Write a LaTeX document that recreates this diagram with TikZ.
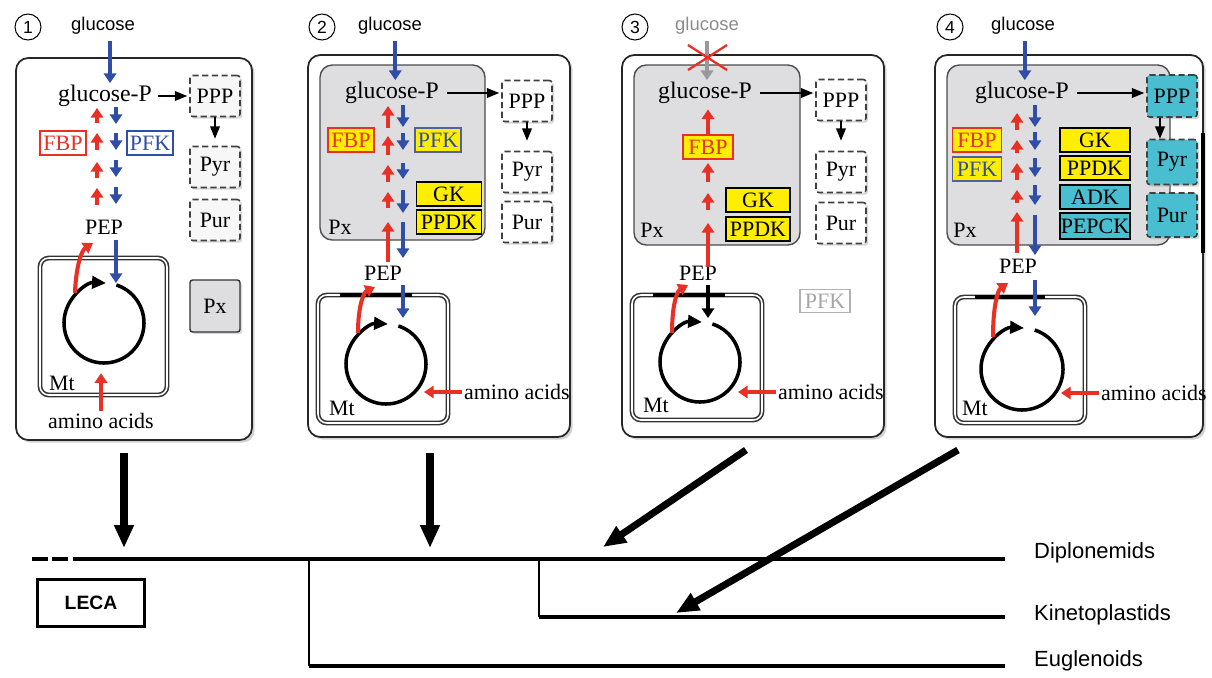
\documentclass[tikz,border=0pt]{standalone}
\usepackage{fontspec}
\setmainfont{Liberation Serif}
\setsansfont{Liberation Sans}
\usetikzlibrary{arrows.meta,shadows}

\definecolor{redA}{RGB}{232,48,36}
\definecolor{blueA}{RGB}{48,78,168}
\definecolor{yelA}{RGB}{255,238,0}
\definecolor{cyanA}{RGB}{72,190,208}
\definecolor{pxgray}{RGB}{222,222,224}

\newdimen\pxu
\pxu=0.02cm

\begin{document}
\begin{tikzpicture}[x=0.02cm,y=-0.02cm,
  every node/.style={font=\fontsize{12.5}{14}\selectfont},
  txt/.style={inner sep=1pt},
  gpx/.style={inner sep=1pt,font=\fontsize{13.5}{15}\selectfont},
  lab/.style={font=\sffamily\fontsize{10.5}{12}\selectfont},
  num/.style={draw,circle,line width=0.6pt,minimum size=26\pxu,inner sep=0pt,font=\sffamily\fontsize{10}{12}\selectfont},
  cell/.style={draw=black!85,line width=1pt,rounded corners=7pt,fill=white,
    drop shadow={shadow xshift=1.5pt,shadow yshift=-1.5pt,opacity=0.35}},
  pxc/.style={draw=black!70,line width=0.8pt,rounded corners=7pt,fill=pxgray},
  mt/.style={draw=black!80,line width=0.9pt,double=white,double distance=0.9pt,rounded corners=5pt},
  dbox/.style={draw=black!75,dash pattern=on 3.5pt off 2pt,line width=0.9pt,fill=black!3,
    rounded corners=1.5pt,minimum width=50\pxu,minimum height=41\pxu,inner sep=0pt,
    drop shadow={shadow xshift=1.2pt,shadow yshift=-1.2pt,opacity=0.3}},
  pxn/.style={draw=black!80,line width=0.8pt,fill=pxgray,rounded corners=1.5pt,
    minimum width=50\pxu,minimum height=52\pxu,inner sep=0pt,
    drop shadow={shadow xshift=1.2pt,shadow yshift=-1.2pt,opacity=0.3}},
  enz/.style={draw,line width=0.7pt,inner sep=0pt,minimum width=46\pxu,minimum height=24\pxu},
  rarr/.style={draw=redA,line width=2.3pt,-{Triangle[width=7pt,length=5.5pt]}},
  barr/.style={draw=blueA,line width=2.3pt,-{Triangle[width=7pt,length=5.5pt]}},
  karr/.style={draw=black,line width=0.8pt,-{Triangle[width=5.5pt,length=7pt]}},
  cyc/.style={draw=black,line width=2pt,-{Triangle[width=7pt,length=8pt]}},
  tree/.style={line width=2.6pt},
  big/.style={line width=4pt,-{Triangle[width=10.5pt,length=13pt]}},
  clade/.style={anchor=west,font=\sffamily\fontsize{12.5}{14}\selectfont}]
  \useasboundingbox (0,0) rectangle (1212,677);

  % ===== Panel 1: LECA =====
  \node[num] (n1) at (28,27) {1};
  \node[lab] (glc1) at (103,26) {glucose};
  \draw[cell] (16,58) rectangle (252,440);
  \node[gpx] (gp1) at (105,96) {glucose-P};
  \node[dbox] (ppp1) at (215,96) {PPP};
  \node[dbox] (pyr1) at (215,167) {Pyr};
  \node[dbox] (pur1) at (215,220) {Pur};
  \node[pxn] (px1) at (215,306) {Px};
  \node[enz,draw=redA,text=redA] (fbp1) at (63,143) {FBP};
  \node[enz,draw=blueA,text=blueA] (pfk1) at (150,143) {PFK};
  \node[txt] (pep1) at (104,227) {PEP};
  \draw[mt] (40,258) rectangle (167,395);
  \node[txt] (mt1) at (62,383) {Mt};
  \node[txt] (aa1) at (101,421) {amino acids};
  \draw[barr] ([xshift=4pt]glc1.south) -- ([xshift=4pt]glc1.south |- gp1.north);
  \draw[karr,shorten <=4\pxu,shorten >=2\pxu] (gp1.east) -- (gp1.east -| ppp1.west);
  \draw[karr,shorten >=7\pxu] (ppp1) -- (pyr1);
  % glycolysis / gluconeogenesis
  \foreach \a/\b in {123/108,150/133,178/162,205/188}
    \draw[rarr] (97,\a) -- (97,\b);
  \foreach \a/\b in {107/124,133/150,160/177,187/204}
    \draw[barr] (116,\a) -- (116,\b);
  \draw[barr] (116,240) -- (116,283);
  \coordinate (c1) at (104,323);
  \draw[cyc] (c1) ++(-72:40) arc[start angle=-72,end angle=273,radius=40];
  \draw[rarr] (75,293) .. controls (76,265) and (82,250) .. (93,243);
  \draw[rarr] (aa1.north) -- ++(0,-38);

  % ===== Panel 2 =====
  \node[num] (n2) at (322,27) {2};
  \node[lab] (glc2) at (390,26) {glucose};
  \draw[cell] (308,55) rectangle (570,437);
  \draw[pxc] (320,65) rectangle (485,240);
  \node[txt] (px2) at (340,227) {Px};
  \node[gpx] (gp2) at (392,93) {glucose-P};
  \node[dbox,fill=white] (ppp2) at (527,101) {PPP};
  \node[dbox,fill=white] (pyr2) at (527,172) {Pyr};
  \node[dbox,fill=white] (pur2) at (527,222) {Pur};
  \node[enz,fill=yelA,draw=redA,text=redA] (fbp2) at (351,140) {FBP};
  \node[enz,fill=yelA,draw=blueA!60!gray,text=blueA] (pfk2) at (438,140) {PFK};
  \node[enz,fill=yelA,minimum width=65\pxu] (gk2) at (449,194) {GK};
  \node[enz,fill=yelA,minimum width=65\pxu] (ppdk2) at (449,222) {PPDK};
  \node[txt] (pep2) at (383,273) {PEP};
  \draw[mt] (318,295) rectangle (448,423);
  \draw[line width=2.2pt] (340,295) -- (412,295);
  \node[txt] (mt2) at (342,408) {Mt};
  \node[txt,anchor=west] (aa2) at (462,392) {amino acids};
  \draw[barr] ([xshift=3pt]glc2.south) -- ([xshift=3pt]glc2.south |- gp2.north);
  \draw[karr,shorten <=6\pxu,shorten >=2\pxu] (gp2.east) -- (gp2.east -| ppp2.west);
  \draw[karr,shorten >=10\pxu] (ppp2) -- (pyr2);
  \foreach \a/\b in {128/106,155/136,182/165,208/192,262/222}
    \draw[rarr] (388,\a) -- (388,\b);
  \foreach \a/\b in {105/127,133/150,163/179,190/213,222/258}
    \draw[barr] (403,\a) -- (403,\b);
  \draw[barr] (403,285) -- (403,318);
  \coordinate (c2) at (386,364);
  \draw[cyc] (c2) ++(-72:40) arc[start angle=-72,end angle=273,radius=40];
  \draw[rarr] (358,333) .. controls (358,305) and (364,292) .. (375,287);
  \draw[rarr] (aa2.west) -- ++(-38,0);

  % ===== Panel 3 =====
  \node[num] (n3) at (635,27) {3};
  \node[lab,text=black!45] (glc3) at (707,26) {glucose};
  \draw[cell] (622,55) rectangle (884,437);
  \draw[pxc] (634,65) rectangle (800,245);
  \node[txt] (px3) at (652,230) {Px};
  \node[gpx] (gp3) at (705,93) {glucose-P};
  \node[dbox,fill=white] (ppp3) at (841,100) {PPP};
  \node[dbox,fill=white] (pyr3) at (841,172) {Pyr};
  \node[dbox,fill=white] (pur3) at (841,223) {Pur};
  \node[enz,fill=yelA,draw=redA,text=redA,minimum width=50\pxu] (fbp3) at (708,147) {FBP};
  \node[enz,fill=yelA,minimum width=64\pxu] (gk3) at (758,200) {GK};
  \node[enz,fill=yelA,minimum width=64\pxu] (ppdk3) at (758,229) {PPDK};
  \node[enz,draw=black!30,text=black!35,minimum width=50\pxu,minimum height=23\pxu] (pfk3) at (825,301) {PFK};
  \node[txt] (pep3) at (698,273) {PEP};
  \draw[mt] (632,295) rectangle (762,420);
  \draw[line width=2.2pt] (653,295) -- (725,295);
  \node[txt] (mt3) at (656,405) {Mt};
  \node[txt,anchor=west] (aa3) at (776,392) {amino acids};
  \draw[draw=black!40,line width=2.3pt,-{Triangle[width=7pt,length=5.5pt]}]
    (glc3.south) -- (glc3.south |- gp3.north);
  \draw[redA,line width=1.3pt] (688,45) -- (727,70) (688,70) -- (727,45);
  \draw[karr,shorten <=6\pxu,shorten >=2\pxu] (gp3.east) -- (gp3.east -| ppp3.west);
  \draw[karr,shorten >=10\pxu] (ppp3) -- (pyr3);
  \draw[rarr] (fbp3.north) -- ++(0,-25);
  \foreach \a/\b in {182/163,210/193,267/223}
    \draw[rarr] (708,\a) -- (708,\b);
  \draw[line width=2.3pt,-{Triangle[width=7pt,length=5.5pt]}] (708,285) -- (708,318);
  \coordinate (c3) at (700,362);
  \draw[cyc] (c3) ++(-72:40) arc[start angle=-72,end angle=273,radius=40];
  \draw[rarr] (672,333) .. controls (672,305) and (677,291) .. (688,285);
  \draw[rarr] (aa3.west) -- ++(-38,0);

  % ===== Panel 4 =====
  \node[num] (n4) at (950,27) {4};
  \node[lab] (glc4) at (1023,26) {glucose};
  \draw[cell] (935,55) rectangle (1203,437);
  \draw[line width=2pt] (1203,133) -- (1203,253);
  \draw[pxc] (947,65) rectangle (1170,245);
  \node[txt] (px4) at (965,230) {Px};
  \node[gpx] (gp4) at (1022,93) {glucose-P};
  \node[dbox,fill=cyanA,minimum height=42\pxu] (ppp4) at (1172,96) {PPP};
  \node[dbox,fill=cyanA,minimum height=45\pxu] (pyr4) at (1172,162) {Pyr};
  \node[dbox,fill=cyanA,minimum height=44\pxu] (pur4) at (1172,215) {Pur};
  \node[enz,fill=yelA,draw=redA,text=redA,minimum width=49\pxu] (fbp4) at (977,140) {FBP};
  \node[enz,fill=yelA,draw=blueA!60!gray,text=blueA,minimum width=49\pxu] (pfk4) at (977,169) {PFK};
  \node[enz,fill=yelA,minimum width=70\pxu] (gk4) at (1095,140) {GK};
  \node[enz,fill=yelA,minimum width=70\pxu] (ppdk4) at (1095,168) {PPDK};
  \node[enz,fill=cyanA,minimum width=70\pxu] (adk4) at (1095,197) {ADK};
  \node[enz,fill=cyanA,minimum width=70\pxu,minimum height=26\pxu] (pepck4) at (1095,226) {PEPCK};
  \node[txt] (pep4) at (1018,266) {PEP};
  \draw[mt] (955,297) rectangle (1085,423);
  \draw[line width=2.2pt] (975,297) -- (1045,297);
  \node[txt] (mt4) at (975,408) {Mt};
  \node[txt,anchor=west] (aa4) at (1099,393) {amino acids};
  \draw[barr] ([xshift=1pt]glc4.south) -- ([xshift=1pt]glc4.south |- gp4.north);
  \draw[karr,shorten <=6\pxu,shorten >=2\pxu] (gp4.east) -- (gp4.east -| ppp4.west);
  \draw[karr] ([xshift=-12\pxu]ppp4.south) -- ([xshift=-12\pxu]pyr4.north);
  \foreach \a/\b in {130/113,153/140,180/163,203/190,253/212}
    \draw[rarr] (1017,\a) -- (1017,\b);
  \foreach \a/\b in {105/127,132/150,158/177,185/205,215/255}
    \draw[barr] (1035,\a) -- (1035,\b);
  \draw[barr] (1035,280) -- (1035,316);
  \coordinate (c4) at (1022,369);
  \draw[cyc] (c4) ++(-72:41) arc[start angle=-72,end angle=273,radius=41];
  \draw[rarr] (993,337) .. controls (993,305) and (998,290) .. (1008,283);
  \draw[rarr] (aa4.west) -- ++(-38,0);

  % ===== tree =====
  \coordinate (root) at (73,559);
  \coordinate (bE) at (309,559);
  \coordinate (bK) at (539,559);
  \coordinate (tD) at (1005,559);
  \coordinate (tK) at (1005,617);
  \coordinate (tE) at (1005,666);
  \draw[tree] (32,559) -- (48,559) (52,559) -- (68,559);
  \draw[tree] (root) -- (tD);
  \draw[line width=1.6pt] (bE) -- (bE |- tE);
  \draw[line width=1.6pt] (bK) -- (bK |- tK);
  \draw[tree] (bE |- tE) -- (tE);
  \draw[tree] (bK |- tK) -- (tK);
  \node[clade] (dip) at (1028,553) {Diplonemids};
  \node[clade] (kin) at (1028,615) {Kinetoplastids};
  \node[clade] (eug) at (1028,661) {Euglenoids};
  \node[draw,line width=1.8pt,minimum width=107\pxu,minimum height=47\pxu,inner sep=0pt,
    font=\sffamily\bfseries\fontsize{11}{13}\selectfont] (leca) at (91,603) {LECA};

  % panels onto the tree
  \coordinate (a1s) at (124,453); \coordinate (a1e) at (124,548);
  \coordinate (a2s) at (430,453); \coordinate (a2e) at (430,548);
  \coordinate (a3s) at (746,450); \coordinate (a3e) at (603,547);
  \coordinate (a4s) at (958,450); \coordinate (a4e) at (676,613);
  \draw[big] (a1s) -- (a1e);
  \draw[big] (a2s) -- (a2e);
  \draw[big] (a3s) -- (a3e);
  \draw[big] (a4s) -- (a4e);
\end{tikzpicture}
\end{document}
